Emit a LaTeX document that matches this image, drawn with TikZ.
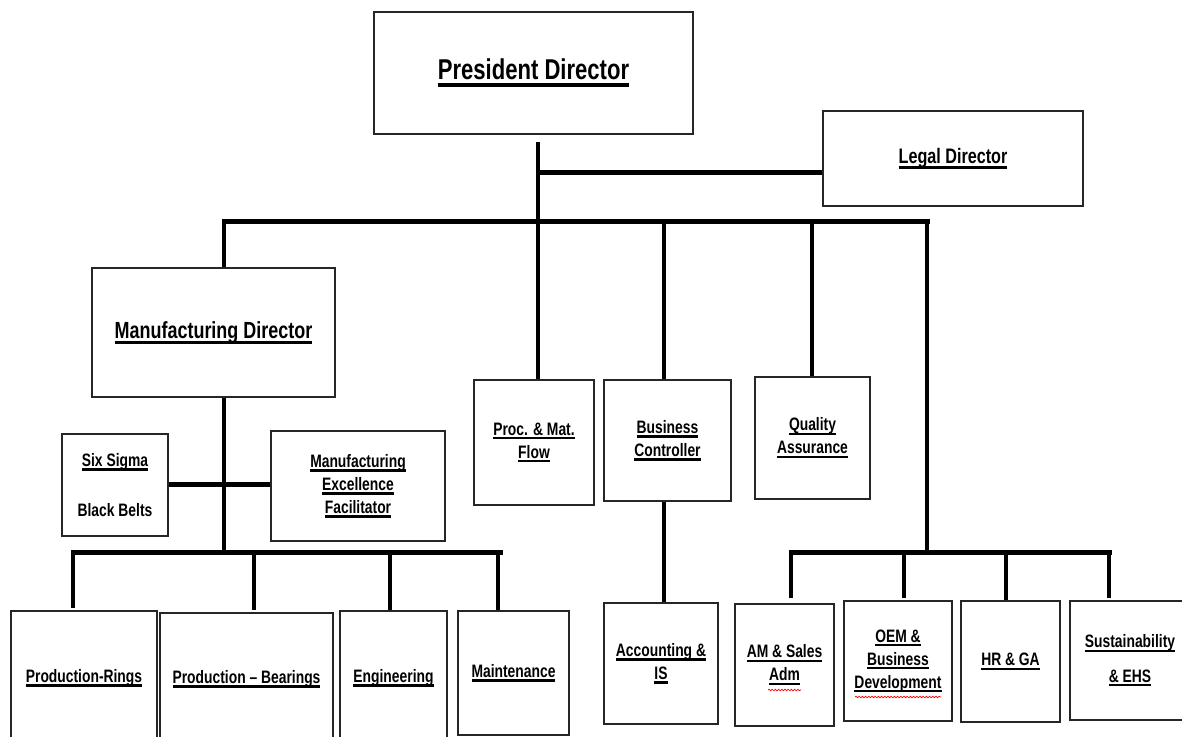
\documentclass[tikz,border=0pt]{standalone}
\usepackage{fontspec}
\newfontfamily\orgfont[FakeStretch=0.77]{Liberation Sans Bold}
\usetikzlibrary{decorations.pathmorphing}

% underline drawn at a fixed depth below the baseline
\newcommand\ulx[1]{\leavevmode\sbox0{#1}\rlap{\rule[-0.24em]{\wd0}{0.13em}}\usebox0}

% box given by its corners in pixel units: name, x1, y1, x2, y2, text
\newcommand\unitbox[7][]{%
  \node[orgbox, #1, minimum width={(#5-#3)*0.75pt}, minimum height={(#6-#4)*0.75pt}]
    (#2) at ({(#3+#5)/2},{(#4+#6)/2}) {#7};}

\tikzset{
  orgbox/.style={draw=black!85, line width=1.2pt, fill=white, inner sep=1pt,
    align=center, font={\orgfont\fontsize{13.5pt}{17.25pt}\selectfont}},
  bus/.style={line width=3.75pt, line cap=rect},
  stem/.style={line width=2.4pt},
  spellmark/.style={red, line width=0.5pt, decorate,
    decoration={snake, amplitude=0.6pt, segment length=2.4pt}},
}

\begin{document}
\begin{tikzpicture}[x=0.75pt, y=-0.75pt]
\path[use as bounding box] (0,0) rectangle (1182,737);
\clip (0,0) rectangle (1182,737);

% top level
\unitbox[font={\orgfont\fontsize{21.5pt}{25pt}\selectfont}]{pres}{374}{12}{693}{134}{\ulx{President Director}}
\unitbox[font={\orgfont\fontsize{15.75pt}{19pt}\selectfont}]{legal}{823}{111}{1083}{206}{\ulx{Legal Director}}

% second level
\unitbox[font={\orgfont\fontsize{17.5pt}{21pt}\selectfont}]{md}{92}{268}{335}{397}{\ulx{Manufacturing Director}}
\unitbox{proc}{474}{380}{594}{505}{\ulx{Proc. \& Mat.}\\\ulx{Flow}}
\unitbox{bc}{604}{380}{731}{501}{\ulx{Business}\\\ulx{Controller}}
\unitbox{qa}{755}{377}{870}{499}{\ulx{Quality}\\\ulx{Assurance}}

% manufacturing staff
\unitbox{sixs}{62}{434}{168}{536}{\ulx{Six Sigma}\\[20.5pt]Black Belts}
\unitbox{mef}{271}{431}{445}{541}{\ulx{Manufacturing}\\\ulx{Excellence}\\\ulx{Facilitator}}

% manufacturing departments
\unitbox{prings}{11}{611}{157}{745}{\ulx{Production-Rings}}
\unitbox{pbear}{160}{613}{333}{745}{\ulx{Production – Bearings}}
\unitbox{eng}{340}{611}{447}{745}{\ulx{Engineering}}
\unitbox{maint}{458}{611}{569}{735}{\ulx{Maintenance}}

% finance
\unitbox{acct}{604}{603}{718}{724}{\ulx{Accounting \&}\\\ulx{IS}}

% commercial and support
\unitbox{am}{735}{604}{834}{726}{\ulx{AM \& Sales}\\\ulx{Adm}}
\unitbox{oem}{844}{601}{952}{721}{\ulx{OEM \&}\\\ulx{Business}\\\ulx{Development}}
\unitbox{hr}{961}{601}{1060}{722}{\ulx{HR \& GA}}
\unitbox{sus}{1070}{601}{1190}{720}{\ulx{Sustainability}\\[8.5pt]\ulx{\& EHS}}

% junction points
\coordinate (pTop) at (538,142);
\coordinate (jLeg) at (538,173);
\coordinate (jBus) at (538,222);
\coordinate (busL) at (224,222);
\coordinate (busR) at (927,222);
\coordinate (jBC)  at (664,222);
\coordinate (jQA)  at (812,222);
\coordinate (mdBus) at (224,553);
\coordinate (lbL) at (73,553);
\coordinate (lbR) at (500,553);
\coordinate (lb2) at (254,553);
\coordinate (lb3) at (390,553);
\coordinate (lb4) at (498,553);
\coordinate (rbus) at (927,553);
\coordinate (rL) at (791,553);
\coordinate (r2) at (904,553);
\coordinate (r3) at (1006,553);
\coordinate (rR) at (1109,553);
\coordinate (acX) at (664,0);

% president and legal
\draw[stem] (pTop) -- (jBus);
\draw[bus, line cap=butt] (jLeg) -- (jLeg -| legal.west);

% main bus and its drops
\draw[bus] (busL) -- (busR);
\draw[stem] (busL) -- (busL |- md.north);
\draw[stem] (jBus) -- (jBus |- proc.north);
\draw[stem] (jBC) -- (jBC |- bc.north);
\draw[stem] (jQA) -- (jQA |- qa.north);
\draw[stem] (busR) -- (rbus);

% manufacturing branch
\draw[stem, line width=3pt] (mdBus |- md.south) -- (mdBus);
\draw[bus, line cap=butt] (sixs.east) -- (sixs.east -| mef.west);
\draw[bus] (lbL) -- (lbR);
\draw[stem] (lbL) -- ([yshift=2pt]lbL |- prings.north);
\draw[stem] (lb2) -- ([yshift=2pt]lb2 |- pbear.north);
\draw[stem] (lb3) -- (lb3 |- eng.north);
\draw[stem] (lb4) -- (lb4 |- maint.north);

% finance branch
\draw[stem] (acX |- bc.south) -- (acX |- acct.north);

% commercial and support branch
\draw[bus] (rL) -- (rR);
\draw[stem] (rL) -- ([yshift=4pt]rL |- am.north);
\draw[stem] (r2) -- ([yshift=2pt]r2 |- oem.north);
\draw[stem] (r3) -- (r3 |- hr.north);
\draw[stem] (rR) -- ([yshift=2pt]rR |- sus.north);

% spelling marks under two words
\draw[spellmark] (768,690) -- (801,690);
\draw[spellmark] (855,697) -- (941,697);
\end{tikzpicture}
\end{document}
